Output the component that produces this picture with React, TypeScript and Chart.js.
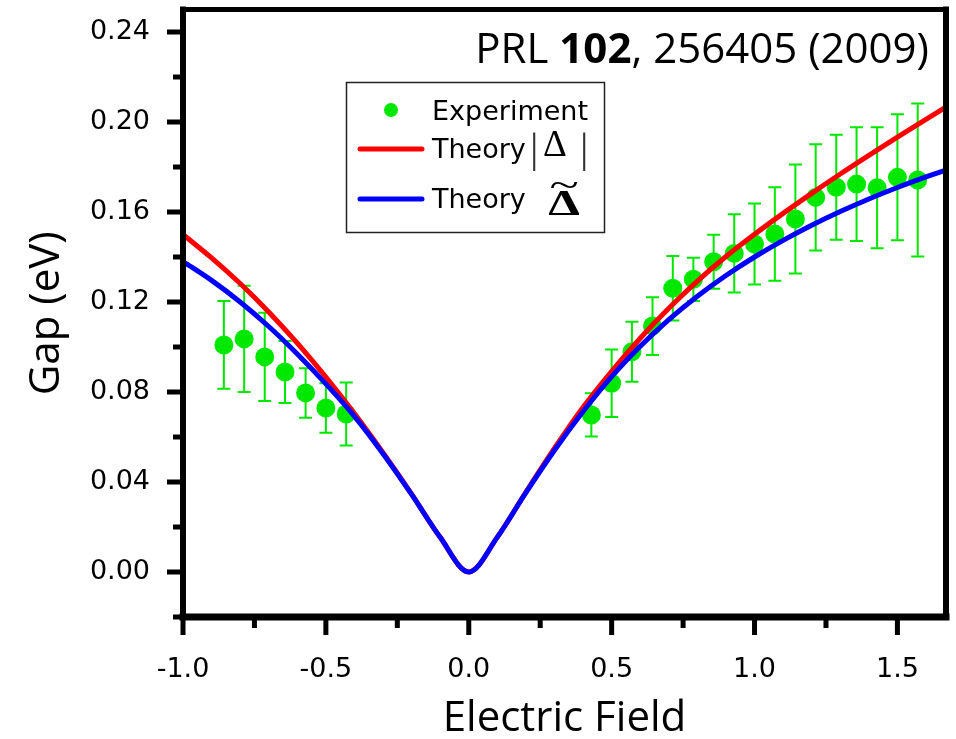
import React, { useEffect, useRef } from 'react';
import { Chart, registerables } from 'chart.js';

Chart.register(...registerables);

// Theory curves sampled along the field axis
const curveX = [
  -1.0, -0.9, -0.8, -0.7, -0.6, -0.5, -0.4, -0.3, -0.2, -0.1, 0.0,
  0.1, 0.2, 0.3, 0.4, 0.5, 0.6, 0.7, 0.8, 0.9, 1.0, 1.1, 1.2, 1.3, 1.4, 1.5, 1.6, 1.7,
];
const theoryAbs = [
  0.150, 0.1396, 0.1282, 0.1156, 0.1017, 0.0866, 0.0704, 0.053, 0.0346, 0.0154, 0.0,
  0.0155, 0.0355, 0.055, 0.0732, 0.0892, 0.1039, 0.1172, 0.1293, 0.1402, 0.1501, 0.1594,
  0.1683, 0.1769, 0.1852, 0.1933, 0.2012, 0.209,
];
const theoryTilde = [
  0.138, 0.1296, 0.12, 0.1091, 0.0969, 0.0836, 0.0692, 0.0526, 0.0345, 0.0154, 0.0,
  0.0155, 0.0353, 0.0541, 0.0713, 0.0868, 0.1003, 0.1122, 0.1226, 0.1318, 0.14, 0.1474,
  0.1541, 0.1602, 0.1658, 0.1709, 0.1756, 0.18,
];

// Experimental points
const expX = [
  -0.857, -0.786, -0.714, -0.643, -0.571, -0.5, -0.429,
  0.429, 0.5, 0.571, 0.643, 0.714, 0.786, 0.857, 0.929, 1.0, 1.071, 1.143, 1.214,
  1.286, 1.357, 1.429, 1.5, 1.571,
];
const expY = [
  0.1009, 0.1036, 0.0956, 0.0889, 0.0796, 0.0729, 0.0702,
  0.0698, 0.0839, 0.0979, 0.1093, 0.1261, 0.1301, 0.1379, 0.1416, 0.1458, 0.1502,
  0.1569, 0.1665, 0.171, 0.1724, 0.1708, 0.1754, 0.1742,
];
const expErr = [
  0.0195, 0.0236, 0.0196, 0.0138, 0.011, 0.011, 0.014,
  0.0096, 0.015, 0.0133, 0.0128, 0.0143, 0.0096, 0.012, 0.0174, 0.018, 0.0208,
  0.0242, 0.0236, 0.0233, 0.0253, 0.0269, 0.028, 0.034,
];

const xMajorTicks = [-1.0, -0.5, 0.0, 0.5, 1.0, 1.5];
const xMinorTicks = [-0.75, -0.25, 0.25, 0.75, 1.25];
const yMajorTicks = [0.0, 0.04, 0.08, 0.12, 0.16, 0.2, 0.24];
const yMinorTicks = [-0.02, 0.02, 0.06, 0.1, 0.14, 0.18, 0.22];

const GREEN = '#00e800';
const RED = '#ff0000';
const BLUE = '#0000ff';

const decorPlugin = {
  id: 'decor',
  beforeDatasetsDraw(chart: any) {
    const ctx = chart.ctx;
    const xs = chart.scales.x;
    const ys = chart.scales.y;
    ctx.save();
    ctx.strokeStyle = GREEN;
    ctx.lineWidth = 2;
    expX.forEach((x, i) => {
      const px = xs.getPixelForValue(x);
      const top = ys.getPixelForValue(expY[i] + expErr[i]);
      const bot = ys.getPixelForValue(expY[i] - expErr[i]);
      ctx.beginPath();
      ctx.moveTo(px, top);
      ctx.lineTo(px, bot);
      ctx.moveTo(px - 6.5, top);
      ctx.lineTo(px + 6.5, top);
      ctx.moveTo(px - 6.5, bot);
      ctx.lineTo(px + 6.5, bot);
      ctx.stroke();
    });
    ctx.restore();
  },
  afterDraw(chart: any) {
    const ctx = chart.ctx;
    const { left, right, top, bottom } = chart.chartArea;
    const xs = chart.scales.x;
    const ys = chart.scales.y;
    ctx.save();
    // frame
    ctx.strokeStyle = '#000';
    ctx.lineCap = 'square';
    ctx.lineWidth = 5;
    ctx.beginPath();
    ctx.moveTo(left, top);
    ctx.lineTo(right, top);
    ctx.stroke();
    ctx.lineWidth = 6;
    ctx.beginPath();
    ctx.moveTo(left, top);
    ctx.lineTo(left, bottom);
    ctx.moveTo(right, top);
    ctx.lineTo(right, bottom);
    ctx.stroke();
    ctx.lineWidth = 7;
    ctx.beginPath();
    ctx.moveTo(left, bottom);
    ctx.lineTo(right, bottom);
    ctx.stroke();

    // ticks
    ctx.lineCap = 'butt';
    ctx.lineWidth = 5;
    ctx.beginPath();
    yMajorTicks.forEach((v) => {
      const py = ys.getPixelForValue(v);
      ctx.moveTo(left - 16, py);
      ctx.lineTo(left, py);
    });
    yMinorTicks.forEach((v) => {
      const py = ys.getPixelForValue(v);
      ctx.moveTo(left - 10, py);
      ctx.lineTo(left, py);
    });
    xMajorTicks.forEach((v) => {
      const px = xs.getPixelForValue(v);
      ctx.moveTo(px, bottom);
      ctx.lineTo(px, bottom + 18);
    });
    xMinorTicks.forEach((v) => {
      const px = xs.getPixelForValue(v);
      ctx.moveTo(px, bottom);
      ctx.lineTo(px, bottom + 11);
    });
    ctx.stroke();

    // legend box
    ctx.fillStyle = '#fff';
    ctx.fillRect(346, 82, 258, 150);
    ctx.strokeStyle = '#222';
    ctx.lineWidth = 1.5;
    ctx.strokeRect(346.5, 82.5, 258, 150);

    ctx.fillStyle = GREEN;
    ctx.beginPath();
    ctx.arc(391, 110, 7, 0, Math.PI * 2);
    ctx.fill();

    ctx.lineCap = 'round';
    ctx.lineWidth = 5;
    ctx.strokeStyle = RED;
    ctx.beginPath();
    ctx.moveTo(360, 149);
    ctx.lineTo(422, 149);
    ctx.stroke();
    ctx.strokeStyle = BLUE;
    ctx.beginPath();
    ctx.moveTo(360, 199);
    ctx.lineTo(422, 199);
    ctx.stroke();

    ctx.fillStyle = '#000';
    ctx.textAlign = 'left';
    ctx.textBaseline = 'alphabetic';
    ctx.font = '27px "DejaVu Sans"';
    ctx.fillText('Experiment', 432, 120);
    ctx.fillText('Theory', 432, 158);
    ctx.fillText('Theory', 432, 208);

    ctx.font = '42px "Liberation Serif"';
    ctx.fillStyle = '#333';
    ctx.fillText('|', 530, 162);
    ctx.fillText('|', 580, 162);
    ctx.fillStyle = '#000';
    ctx.font = '37px "Liberation Serif"';
    ctx.fillText('Δ', 543, 156);

    ctx.save();
    ctx.translate(564, 215);
    ctx.scale(1.4, 1);
    ctx.textAlign = 'center';
    ctx.font = 'bold 36px "Liberation Serif"';
    ctx.fillText('Δ', 0, 0);
    ctx.restore();
    ctx.save();
    ctx.translate(564, 197);
    ctx.scale(1.5, 1);
    ctx.textAlign = 'center';
    ctx.font = '36px "Liberation Serif"';
    ctx.fillText('~', 0, 0);
    ctx.restore();

    // citation title
    const parts: [string, string][] = [
      ['PRL ', '42px "Open Sans"'],
      ['102', 'bold 42px "Open Sans"'],
      [', 256405 (2009)', '42px "Open Sans"'],
    ];
    let total = 0;
    parts.forEach(([t, f]) => {
      ctx.font = f;
      total += ctx.measureText(t).width;
    });
    let x = 929 - total;
    ctx.textAlign = 'left';
    parts.forEach(([t, f]) => {
      ctx.font = f;
      ctx.fillText(t, x, 63);
      x += ctx.measureText(t).width;
    });
    ctx.restore();
  },
};

export default function App() {
  const ref = useRef<HTMLCanvasElement>(null);
  useEffect(() => {
    document.body.style.margin = '0';
    const canvas = ref.current!;
    const chart = new Chart(canvas, {
      type: 'scatter',
      data: {
        datasets: [
          {
            label: 'Theory Δ̃',
            data: curveX.map((x, i) => ({ x, y: theoryTilde[i] })),
            showLine: true,
            borderColor: BLUE,
            backgroundColor: BLUE,
            borderWidth: 5,
            pointRadius: 0,
            cubicInterpolationMode: 'monotone',
            order: 1,
          } as any,
          {
            label: 'Theory |Δ|',
            data: curveX.map((x, i) => ({ x, y: theoryAbs[i] })),
            showLine: true,
            borderColor: RED,
            backgroundColor: RED,
            borderWidth: 5,
            pointRadius: 0,
            cubicInterpolationMode: 'monotone',
            order: 2,
          } as any,
          {
            label: 'Experiment',
            data: expX.map((x, i) => ({ x, y: expY[i] })),
            showLine: false,
            backgroundColor: GREEN,
            borderWidth: 0,
            pointRadius: 9.5,
            order: 3,
          } as any,
        ],
      },
      options: {
        animation: false,
        responsive: false,
        layout: { padding: { top: 8, right: 10, left: 0, bottom: 0 } },
        plugins: { legend: { display: false }, tooltip: { enabled: false } },
        scales: {
          x: {
            type: 'linear',
            min: -1,
            max: 1.67,
            grid: { display: false, drawTicks: false },
            border: { display: false },
            afterBuildTicks: (s: any) => {
              s.ticks = xMajorTicks.map((v) => ({ value: v }));
            },
            afterFit: (s: any) => {
              s.height = 122;
              s.paddingLeft = 0;
              s.paddingRight = 0;
            },
            ticks: {
              callback: (v: any) => Number(v).toFixed(1),
              font: { family: 'DejaVu Sans', size: 27 },
              color: '#000',
              padding: 37,
              maxRotation: 0,
              autoSkip: false,
            },
            title: {
              display: true,
              text: 'Electric Field',
              font: { family: 'Open Sans', size: 42 },
              color: '#000',
              padding: { top: 0, bottom: -5 },
            },
          },
          y: {
            type: 'linear',
            min: -0.02,
            max: 0.25,
            grid: { display: false, drawTicks: false },
            border: { display: false },
            afterBuildTicks: (s: any) => {
              s.ticks = yMajorTicks.map((v) => ({ value: v }));
            },
            afterFit: (s: any) => {
              s.width = 183;
              s.paddingTop = 0;
              s.paddingBottom = 0;
            },
            ticks: {
              callback: (v: any) => Number(v).toFixed(2),
              font: { family: 'DejaVu Sans', size: 27 },
              color: '#000',
              padding: 33,
              autoSkip: false,
            },
            title: {
              display: true,
              text: 'Gap (eV)',
              font: { family: 'Open Sans', size: 42 },
              color: '#000',
              padding: { top: 22, bottom: 0 },
            },
          },
        },
      },
      plugins: [decorPlugin],
    } as any);
    return () => chart.destroy();
  }, []);
  return (
    <div style={{ position: 'absolute', left: 0, top: 0, width: 956, height: 739 }}>
      <canvas ref={ref} width={956} height={739} />
    </div>
  );
}
